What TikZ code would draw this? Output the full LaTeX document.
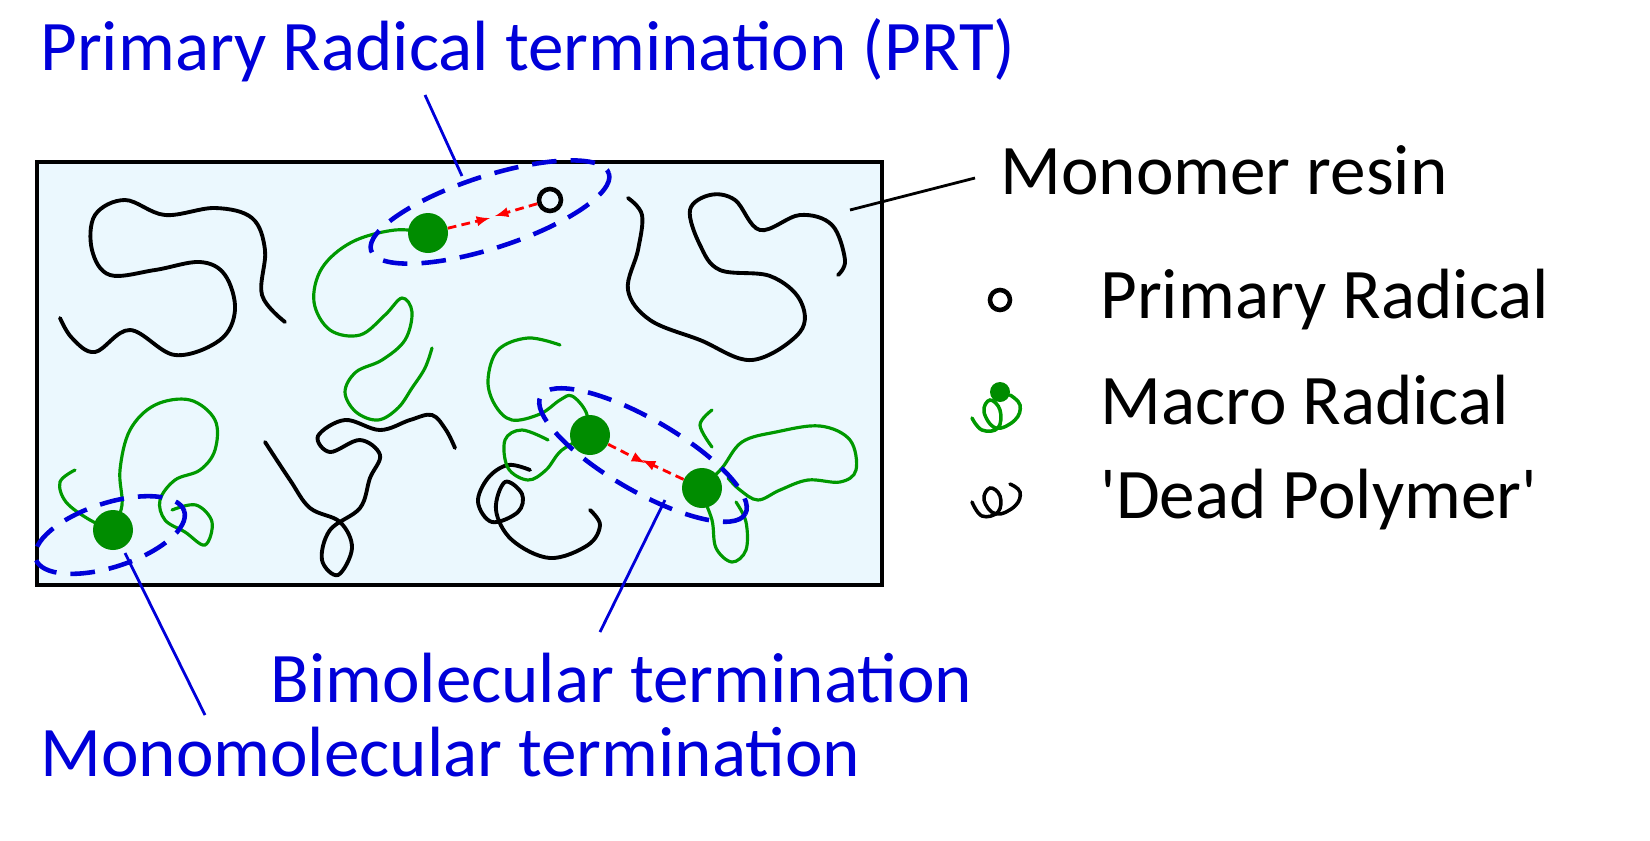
\documentclass[tikz,border=0pt]{standalone}
\usepackage{fontspec}
\setmainfont{Carlito}
\begin{document}
\begin{tikzpicture}[x=0.02cm,y=-0.02cm,
  lbl/.style={font=\fontsize{40.5}{46}\selectfont,inner sep=0pt},
  blbl/.style={lbl,text=blue!85!black},
  dead/.style={line width=2.2pt,black,line cap=round},
  macro/.style={line width=1.8pt,green!60!black,line cap=round},
  dot/.style={circle,fill=green!55!black,minimum size=40*0.02cm,inner sep=0pt},
  ring/.style={circle,draw=black,line width=2.6pt,minimum size=22*0.02cm,inner sep=0pt},
  encl/.style={draw=blue!85!black,line width=2.6pt,dash pattern=on 14pt off 8pt},
  ptr/.style={draw=blue!85!black,line width=1.6pt},
  att/.style={-latex,red,line width=1.6pt,dash pattern=on 5pt off 3pt}]
\useasboundingbox (0,0) rectangle (1650,840);
\node[draw=black,line width=2pt,fill=cyan!8,minimum width=845*0.02cm,minimum height=423*0.02cm,anchor=north west] (box) at (35,160) {};
% dead polymers
\draw[dead] plot[smooth,tension=0.6] coordinates {(60,318)(72,338)(95,352)(130,330)(175,355)(220,340)(235,310)(225,275)(200,262)(155,270)(110,275)(92,250)(95,215)(125,200)(165,215)(215,208)(252,218)(265,250)(262,295)(285,322)};
\draw[dead] plot[smooth,tension=0.6] coordinates {(628,198)(642,215)(638,250)(628,290)(650,320)(700,340)(752,360)(800,332)(800,300)(770,276)(720,270)(700,245)(690,210)(710,195)(735,200)(760,230)(800,215)(832,225)(845,260)(838,275)};
\draw[dead] plot[smooth,tension=0.6] coordinates {(265,442)(290,480)(310,508)(340,522)(352,548)(338,575)(322,560)(330,530)(360,508)(370,478)(380,455)(360,440)(330,452)(318,436)(345,420)(380,430)(410,420)(432,415)(446,430)(455,448)};
\draw[dead] plot[smooth,tension=0.6] coordinates {(530,470)(508,465)(488,478)(478,502)(492,522)(518,512)(522,494)(505,482)(496,510)(512,540)(550,558)(588,545)(600,525)(590,510)};
% macro radicals
\draw[macro] plot[smooth,tension=0.6] coordinates {(428,233)(395,230)(352,242)(322,268)(314,302)(330,330)(360,335)(385,315)(402,298)(412,312)(405,340)(382,360)(356,372)(345,392)(356,412)(378,420)(398,408)(412,388)(425,368)(432,348)};
\draw[macro] plot[smooth,tension=0.6] coordinates {(560,345)(528,338)(498,350)(488,380)(495,405)(512,420)(540,414)(560,400)(572,396)(586,412)(590,435)};
\draw[macro] plot[smooth,tension=0.6] coordinates {(590,435)(562,450)(546,470)(528,480)(508,468)(505,440)(522,430)(548,440)};
\draw[macro] plot[smooth,tension=0.6] coordinates {(702,488)(722,468)(742,442)(776,432)(820,426)(850,440)(856,470)(840,482)(808,480)(780,490)(758,500)(740,490)(728,478)};
\draw[macro] plot[smooth,tension=0.6] coordinates {(702,495)(712,520)(716,548)(732,562)(746,550)(746,522)(736,502)};
\draw[macro] plot[smooth,tension=0.6] coordinates {(712,410)(700,425)(712,447)};
\draw[macro] plot[smooth,tension=0.6] coordinates {(113,530)(90,520)(66,502)(60,482)(75,470)};
\draw[macro] plot[smooth,tension=0.6] coordinates {(113,530)(122,505)(120,470)(130,430)(155,405)(190,400)(215,420)(215,450)(200,470)(175,480)(160,500)(165,520)(185,532)(205,545)(212,522)(196,505)(172,510)};
% radicals
\node[dot] (pr1) at (428,233) {};
\node[ring] (p0) at (550,200) {};
\node[dot] (b1) at (590,435) {};
\node[dot] (b2) at (702,488) {};
\node[dot] (m1) at (113,530) {};
\draw[att] (pr1) -- (490,218);
\draw[att] (p0) -- (495,216);
\draw[att] (b1) -- (645,463);
\draw[att] (b2) -- (642,460);
% enclosures
\draw[encl,rotate around={18:(490,212)}] (490,212) ellipse (125 and 36);
\draw[encl,rotate around={-30:(643,455)}] (643,455) ellipse (118 and 36);
\draw[encl,rotate around={18:(110,535)}] (110,535) ellipse (78 and 32);
% labels
\node[blbl,anchor=west] (tprt) at (40,50) {Primary Radical termination (PRT)};
\node[blbl,anchor=west] (tbi) at (270,678) {Bimolecular termination};
\node[blbl,anchor=west] (tmono) at (40,752) {Monomolecular termination};
\node[lbl,anchor=west] (tres) at (1000,170) {Monomer resin};
\coordinate (prtA) at (425,95);
\coordinate (prtB) at (462,176);
\draw[ptr] (prtA) -- (prtB);
\coordinate (biA) at (665,500);
\coordinate (biB) at (600,632);
\draw[ptr] (biA) -- (biB);
\coordinate (moA) at (125,553);
\coordinate (moB) at (205,715);
\draw[ptr] (moA) -- (moB);
\coordinate (resA) at (850,210);
\coordinate (resB) at (975,178);
\draw[line width=1.6pt] (resA) -- (resB);
% legend
\node[ring,minimum size=20*0.02cm] (lp) at (1000,300) {};
\node[lbl,anchor=west] (lt1) at (1100,300) {Primary Radical};
\draw[macro,line width=2pt] plot[smooth,tension=0.7] coordinates {(972,418)(982,430)(998,428)(1000,410)(990,400)(984,412)(996,428)(1015,420)(1020,405)(1010,395)};
\node[circle,fill=green!55!black,minimum size=20*0.02cm,inner sep=0pt] (lm) at (1000,392) {};
\node[lbl,anchor=west] (lt2) at (1100,400) {Macro Radical};
\draw[dead,line width=2pt] plot[smooth,tension=0.7] coordinates {(972,502)(982,516)(998,512)(1000,496)(990,488)(984,500)(996,514)(1015,506)(1020,492)(1010,484)};
\node[lbl,anchor=west] (lt3) at (1100,500) {\textquotesingle Dead Polymer\textquotesingle};
\end{tikzpicture}
\end{document}
